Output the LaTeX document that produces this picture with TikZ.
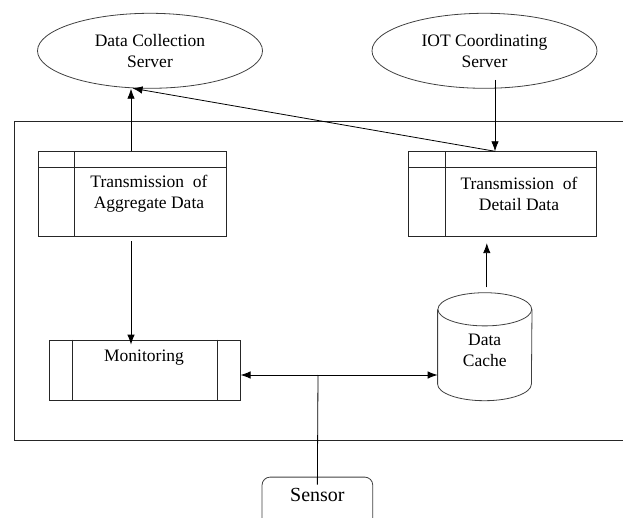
\documentclass[tikz,border=0pt]{standalone}
\usepackage{fontspec}
\setmainfont{Liberation Serif}
\usetikzlibrary{shapes,arrows,arrows.meta,positioning}
\tikzstyle{server} = [ellipse, draw=black!75, line width=0.8pt, minimum width=225pt, minimum height=75pt, inner sep=0pt]
\tikzstyle{process} = [rectangle, draw=black!85, line width=0.8pt, minimum width=188pt, minimum height=85pt]
\tikzstyle{store} = [rectangle, draw=none, minimum width=94pt, minimum height=108pt, inner sep=0pt]
\tikzstyle{textonly} = [draw=none, fill=none, align=center, inner sep=0pt, font=\fontsize{17.5}{21.3}\selectfont]
\tikzstyle{tedge}  = [draw, line width=0.8pt, >={Latex[length=10pt,width=7.5pt]}, ->]

\begin{document}
\begin{tikzpicture}[x=1pt, y=-1pt]
\useasboundingbox (0,0) rectangle (623,518);
\clip (0,0) rectangle (623,518);

% servers =============================
\node[server] (dcs) at (150,50.8) {};
\node[textonly] at (dcs.center) {Data Collection\\Server};
\node[server] (iot) at (484.5,50.8) {};
\node[textonly] at (iot.center) {IOT Coordinating\\Server};

% frame
\draw[line width=0.8pt, draw=black!85] (14,121) rectangle (650,440.5);

% processes
\node[process] (aggr) at (132.5,194.2) {};
\draw[line width=0.8pt, draw=black!85] ([yshift=-16pt]aggr.north west) -- ([yshift=-16pt]aggr.north east);
\draw[line width=0.8pt, draw=black!85] ([xshift=36pt]aggr.north west) -- ([xshift=36pt]aggr.south west);
\node[textonly] at (149,194) {Transmission~ of\\Aggregate Data};

\node[process] (detail) at (502.8,194.2) {};
\draw[line width=0.8pt, draw=black!85] ([yshift=-16pt]detail.north west) -- ([yshift=-16pt]detail.north east);
\draw[line width=0.8pt, draw=black!85] ([xshift=36.5pt]detail.north west) -- ([xshift=36.5pt]detail.south west);
\node[textonly] at (519,194) {Transmission~ of\\Detail Data};

\node[process, minimum width=191pt, minimum height=60pt] (mon) at (144.7,370) {};
\draw[line width=0.8pt, draw=black!85] ([xshift=24pt]mon.north west) -- ([xshift=24pt]mon.south west);
\draw[line width=0.8pt, draw=black!85] ([xshift=-23pt]mon.north east) -- ([xshift=-23pt]mon.south east);
\node[textonly] at (144,358) {Monitoring};

% data store, drawn round its node
\node[store] (cache) at (484.8,346.7) {};
\draw[line width=0.8pt, draw=black!75] (484.8,309.3) ellipse [x radius=46.9pt, y radius=16.6pt];
\draw[line width=0.8pt, draw=black!75] (cache.west |- 0,309.3) -- (cache.west |- 0,384.1)
  arc[start angle=180, end angle=360, x radius=46.9pt, y radius=16.6pt] -- (cache.east |- 0,309.3);
\node[textonly] at (484.7,350.5) {Data\\Cache};

\node[rectangle, rounded corners=8pt, draw=black!75, line width=0.8pt, minimum width=110.7pt, minimum height=50pt, anchor=north] (sensor) at (317.4,476.7) {};
\node[textonly, font=\fontsize{20}{24}\selectfont] at (317.4,495) {Sensor};

% edges
\coordinate (iotdrop) at (495,80);
\coordinate (junction) at (318,375);
\path[tedge] ([xshift=-1.5pt]aggr.north) -- ([xshift=-1.5pt]aggr.north |- dcs.south);
\path[tedge] (iotdrop |- detail.north) -- (dcs.-115);
\path[tedge] (iotdrop) -- (iotdrop |- detail.north);
\path[tedge, shorten <=4pt, shorten >=-5pt] ([xshift=-1.5pt]aggr.south) -- ([xshift=-1.5pt]aggr.south |- mon.north);
\path[tedge, shorten <=5pt, shorten >=6pt] ([xshift=2pt]cache.north) -- ([xshift=2pt]cache.north |- detail.south);
\path[tedge, <->] (junction -| mon.east) -- (junction -| cache.west);
\path[draw, line width=0.8pt, shorten >=-8pt] (junction) -- (sensor.north);

\end{tikzpicture}
\end{document}
